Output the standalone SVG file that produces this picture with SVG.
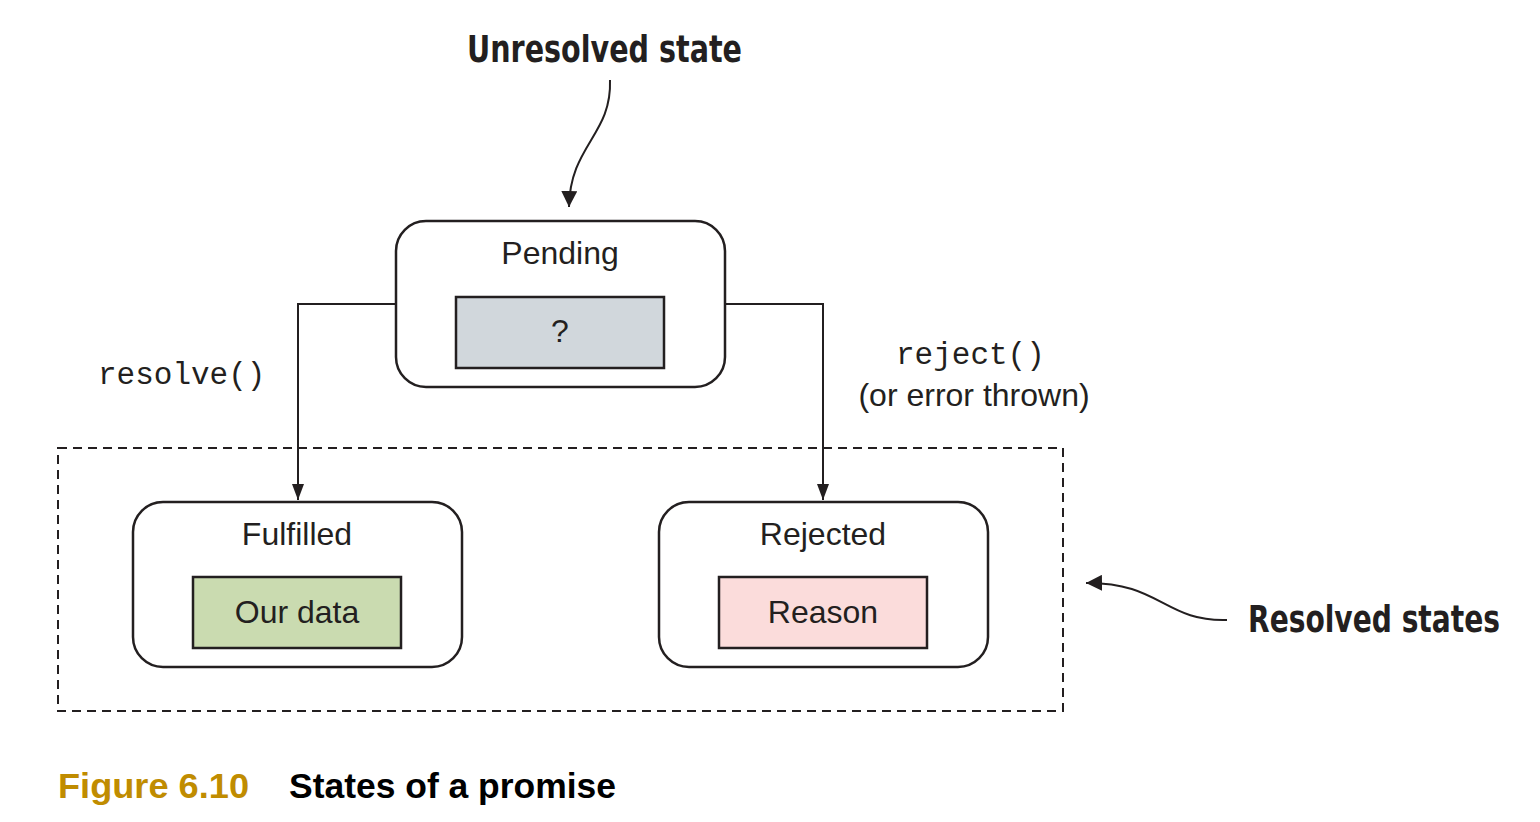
<svg xmlns="http://www.w3.org/2000/svg" width="1540" height="822" viewBox="0 0 1540 822">
<defs>
<marker id="ah" viewBox="0 0 16 12" refX="16" refY="6" markerWidth="16" markerHeight="12" markerUnits="userSpaceOnUse" orient="auto">
<path d="M0,0 L16,6 L0,12 z" fill="#231f20"/>
</marker>
<marker id="ahb" viewBox="0 0 16 16" refX="16" refY="8" markerWidth="16" markerHeight="16" markerUnits="userSpaceOnUse" orient="auto">
<path d="M0,0 L16,8 L0,16 z" fill="#231f20"/>
</marker>
</defs>
<style>
.box{fill:#fff;stroke:#231f20;stroke-width:2.5}
.inner{stroke:#231f20;stroke-width:2.5}
.lbl{font-family:"Liberation Sans",Arial,sans-serif;font-size:32px;fill:#231f20;text-anchor:middle}
.mono{font-family:"Liberation Mono","Courier New",monospace;font-size:31px;fill:#231f20}
.callout{font-family:"DejaVu Sans Condensed","Liberation Sans",sans-serif;font-weight:bold;font-size:38px;fill:#231f20}
.conn{fill:none;stroke:#231f20;stroke-width:2}
</style>
<rect x="58" y="448" width="1005" height="263" fill="none" stroke="#231f20" stroke-width="2" stroke-dasharray="9,6"/>
<g id="connectors">
<path class="conn" d="M396,304 H298 V500" marker-end="url(#ah)"/>
<path class="conn" d="M725,304 H823 V500" marker-end="url(#ah)"/>
<path class="conn" d="M610,80 C612,135 570,145 569,207" marker-end="url(#ahb)"/>
<path class="conn" d="M1227,620 C1165,622 1160,582 1086,583" marker-end="url(#ahb)"/>
</g>
<g id="pending">
<rect class="box" x="396" y="221" width="329" height="166" rx="30"/>
<text class="lbl" x="560" y="264">Pending</text>
<rect class="inner" x="456" y="297" width="208" height="71" fill="#d1d7dc"/>
<text class="lbl" x="560" y="342">?</text>
</g>
<g id="fulfilled">
<rect class="box" x="133" y="502" width="329" height="165" rx="30"/>
<text class="lbl" x="297" y="545">Fulfilled</text>
<rect class="inner" x="193" y="577" width="208" height="71" fill="#cadbb0"/>
<text class="lbl" x="297" y="623">Our data</text>
</g>
<g id="rejected">
<rect class="box" x="659" y="502" width="329" height="165" rx="30"/>
<text class="lbl" x="823" y="545">Rejected</text>
<rect class="inner" x="719" y="577" width="208" height="71" fill="#fbdcdb"/>
<text class="lbl" x="823" y="623">Reason</text>
</g>
<g id="labels">
<text class="mono" x="98" y="384">resolve()</text>
<text class="mono" x="896" y="364">reject()</text>
<text class="lbl" x="974" y="406">(or error thrown)</text>
<text class="callout" x="467" y="62" textLength="275" lengthAdjust="spacingAndGlyphs">Unresolved state</text>
<text class="callout" x="1248" y="632" textLength="252" lengthAdjust="spacingAndGlyphs">Resolved states</text>
</g>
<g id="caption" font-family="'Liberation Sans',Arial,sans-serif" font-weight="bold" font-size="35">
<text x="58" y="798" fill="#c08c00" textLength="191" lengthAdjust="spacingAndGlyphs">Figure 6.10</text>
<text x="289" y="798" fill="#000" textLength="327" lengthAdjust="spacingAndGlyphs">States of a promise</text>
</g>
</svg>
